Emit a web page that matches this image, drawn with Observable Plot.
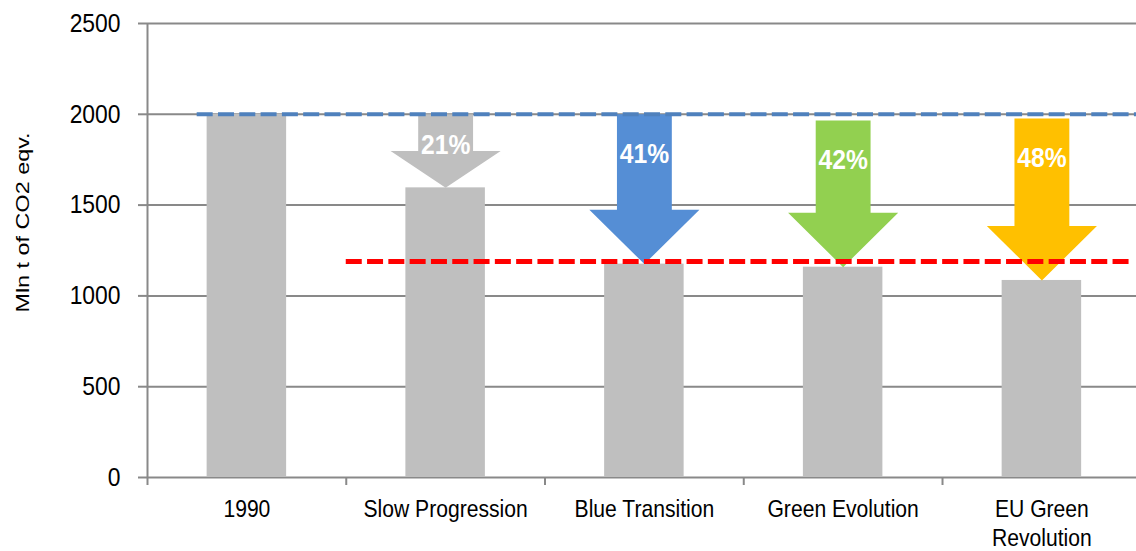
<!DOCTYPE html>
<html>
<head>
<meta charset="utf-8">
<script src="https://cdn.jsdelivr.net/npm/d3@7"></script>
<script src="https://cdn.jsdelivr.net/npm/@observablehq/plot@0.6"></script>
<style>
  body { margin: 0; background: #fff; }
</style>
</head>
<body>
<div id="chart"></div>
<script>
// Emissions by scenario (Mln t of CO2 eqv.)
const categories = ["1990", "Slow Progression", "Blue Transition", "Green Evolution", "EU Green Revolution"];
const emissions = [2000, 1595, 1175, 1158, 1085];

// Reduction arrows for the four scenarios (relative to 1990)
const reductionPct = [21, 41, 42, 48];
const arrowStart = [2000, 2000, 1966, 1977];
const arrowColors = ["#bfbfbf", "#558ed5", "#92d050", "#ffc000"];

const yTicks = [0, 500, 1000, 1500, 2000, 2500];
const baseline = 2000;   // 1990 level
const target = 1190;     // target level
const yTitle = "Mln t of CO2 eqv.";

const font = "'Liberation Sans', Arial, sans-serif";
const gridColor = "#898989";

const bars = categories.map((c, i) => ({i, name: c, value: emissions[i]}));
const scenarios = reductionPct.map((p, k) => ({
  i: k + 1, pct: p, top: arrowStart[k], tip: emissions[k + 1], color: arrowColors[k]
}));

// Block arrow outline in data coordinates: shaft from top, head ending at tip
function arrowPolygon(d) {
  const shaft = 0.138, head = 0.277;
  const neck = d.tip + Math.min(300, (d.top - d.tip) / 2);
  return [
    {x: d.i - shaft, y: d.top}, {x: d.i + shaft, y: d.top}, {x: d.i + shaft, y: neck},
    {x: d.i + head, y: neck}, {x: d.i, y: d.tip}, {x: d.i - head, y: neck},
    {x: d.i - shaft, y: neck}
  ];
}

// Break long category names onto two lines
const wrap = (t) => t.length > 16 ? t.replace(/ (?=\S+$)/, "\n") : t;

const xMax = 4.476;

const plot = Plot.plot({
  width: 1136,
  height: 551,
  marginLeft: 147,
  marginRight: 0,
  marginTop: 23,
  marginBottom: 74,
  style: {fontFamily: font, fontSize: "26px", color: "#000", background: "#fff"},
  x: {domain: [-0.5, xMax], axis: null},
  y: {domain: [0, 2500], axis: null},
  marks: [
    Plot.ruleY(yTicks, {x1: -0.5, x2: xMax, stroke: gridColor, strokeWidth: 2}),
    Plot.ruleX([-0.5], {y1: 0, y2: 2500, stroke: gridColor, strokeWidth: 2}),
    Plot.axisY({ticks: yTicks, tickSize: 9, tickPadding: 18, stroke: gridColor, strokeWidth: 2,
      fontSize: 26, label: null, tickFormat: d => String(d)}),
    Plot.axisX({ticks: [-0.5, 0.5, 1.5, 2.5, 3.5], tickSize: 8, stroke: gridColor, strokeWidth: 2,
      tickFormat: () => "", label: null}),
    Plot.axisX({ticks: [0, 1, 2, 3, 4], tickSize: 0, tickPadding: 20, fontSize: 24, lineHeight: 1.17,
      tickFormat: i => wrap(categories[i]), label: null}),
    Plot.rectY(bars, {x1: d => d.i - 0.2, x2: d => d.i + 0.2, y: "value", fill: "#bfbfbf"}),
    ...scenarios.map(d => Plot.line(arrowPolygon(d), {
      x: "x", y: "y", fill: d.color, stroke: "none", curve: "linear-closed"
    })),
    Plot.text(scenarios, {
      x: "i",
      y: d => d.top - Math.min(220, 0.42 * (d.top - d.tip)),
      text: d => d.pct + "%",
      fill: "white", fontWeight: "bold", fontSize: 28
    }),
    Plot.ruleY([baseline], {x1: -0.25, x2: xMax, stroke: "#4f81bd", strokeWidth: 4, strokeDasharray: "16,5.3"}),
    Plot.ruleY([target], {x1: 0.5, x2: 4.45, stroke: "#ff0000", strokeWidth: 5, strokeDasharray: "16,5.3"}),
    Plot.text([yTitle], {
      text: d => d, frameAnchor: "left", textAnchor: "middle", dx: -124, dy: -28, rotate: -90,
      fontSize: 18
    })
  ]
});

// Scale a text element about its own anchor point
function rescale(el, sx, sy) {
  const t = el.getAttribute("transform") || "";
  const x = +el.getAttribute("x") || 0, y = +el.getAttribute("y") || 0;
  el.setAttribute("transform", `${t} translate(${x},${y}) scale(${sx},${sy}) translate(${-x},${-y})`);
}

// Condensed lettering for the labels; the rotated title is drawn elongated
d3.select(plot).selectAll("text").each(function () {
  if (this.textContent === yTitle) rescale(this, 1.3, 1);
  else rescale(this, 0.88, 1);
});

document.getElementById("chart").appendChild(plot);
</script>
</body>
</html>
